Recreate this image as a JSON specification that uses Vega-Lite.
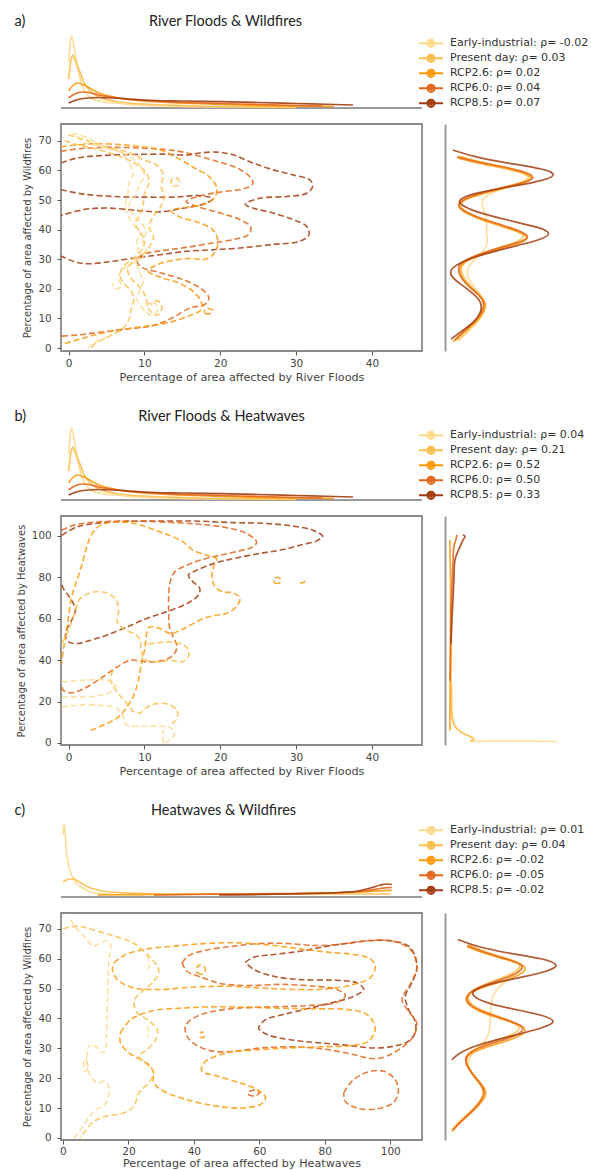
{
"$schema": "https://vega.github.io/schema/vega-lite/v6.json",
"padding": {"left": 14, "top": 13, "right": 0, "bottom": 0},
"config": {
  "font": "DejaVu Sans",
  "view": {"stroke": null},
  "axis": {"labelFont": "DejaVu Sans", "labelFontSize": 10.3, "labelColor": "#444", "titleFont": "DejaVu Sans", "titleFontSize": 10, "titleFontWeight": "normal", "titleColor": "#444", "tickColor": "#555", "grid": false, "domain": false},
  "axisX": {"titleFontSize": 11.2, "labelFontSize": 10.5},
  "legend": {"orient": "none", "padding": 0, "title": null, "symbolType": "M-2,0L2,0M-0.6,0a0.6,0.6 0 1,0 1.2,0a0.6,0.6 0 1,0 -1.2,0M-0.25,0a0.25,0.25 0 1,0 0.5,0a0.25,0.25 0 1,0 -0.5,0", "symbolSize": 144, "symbolStrokeWidth": 2, "symbolOpacity": 1, "labelFont": "DejaVu Sans", "labelFontSize": 11, "labelColor": "#333", "labelOffset": 12, "rowPadding": -2.8, "labelLimit": 300}
},
"datasets": {
"tab": [
{"s":"EI","x":0,"d":0.45},{"s":"EI","x":0.15,"d":0.6},{"s":"EI","x":0.35,"d":0.72},{"s":"EI","x":0.6,"d":0.66},{"s":"EI","x":1,"d":0.48},{"s":"EI","x":1.5,"d":0.3},{"s":"EI","x":2,"d":0.18},{"s":"EI","x":3,"d":0.1},{"s":"EI","x":4,"d":0.07},{"s":"EI","x":6,"d":0.05},{"s":"EI","x":8,"d":0.035},{"s":"EI","x":10,"d":0.025},{"s":"EI","x":14,"d":0.015},{"s":"EI","x":20,"d":0.01},{"s":"EI","x":30,"d":0.005},
{"s":"PD","x":0,"d":0.29},{"s":"PD","x":0.2,"d":0.42},{"s":"PD","x":0.5,"d":0.53},{"s":"PD","x":0.9,"d":0.47},{"s":"PD","x":1.5,"d":0.36},{"s":"PD","x":2,"d":0.26},{"s":"PD","x":3,"d":0.16},{"s":"PD","x":4,"d":0.11},{"s":"PD","x":6,"d":0.07},{"s":"PD","x":8,"d":0.05},{"s":"PD","x":10,"d":0.04},{"s":"PD","x":15,"d":0.025},{"s":"PD","x":20,"d":0.015},{"s":"PD","x":30,"d":0.01},
{"s":"R26","x":0,"d":0.17},{"s":"R26","x":0.5,"d":0.22},{"s":"R26","x":1.2,"d":0.25},{"s":"R26","x":2,"d":0.23},{"s":"R26","x":3,"d":0.19},{"s":"R26","x":4,"d":0.15},{"s":"R26","x":6,"d":0.11},{"s":"R26","x":8,"d":0.085},{"s":"R26","x":10,"d":0.07},{"s":"R26","x":15,"d":0.05},{"s":"R26","x":20,"d":0.035},{"s":"R26","x":25,"d":0.025},{"s":"R26","x":30,"d":0.02},{"s":"R26","x":35,"d":0.015},
{"s":"R60","x":0,"d":0.1},{"s":"R60","x":0.8,"d":0.14},{"s":"R60","x":1.8,"d":0.16},{"s":"R60","x":3,"d":0.15},{"s":"R60","x":4,"d":0.13},{"s":"R60","x":6,"d":0.105},{"s":"R60","x":8,"d":0.085},{"s":"R60","x":10,"d":0.075},{"s":"R60","x":15,"d":0.055},{"s":"R60","x":20,"d":0.045},{"s":"R60","x":25,"d":0.035},{"s":"R60","x":30,"d":0.025},{"s":"R60","x":33.5,"d":0.02},
{"s":"R85","x":0,"d":0.05},{"s":"R85","x":1,"d":0.08},{"s":"R85","x":2.5,"d":0.1},{"s":"R85","x":4,"d":0.105},{"s":"R85","x":6,"d":0.1},{"s":"R85","x":8,"d":0.09},{"s":"R85","x":10,"d":0.08},{"s":"R85","x":15,"d":0.07},{"s":"R85","x":20,"d":0.063},{"s":"R85","x":25,"d":0.055},{"s":"R85","x":30,"d":0.045},{"s":"R85","x":35,"d":0.035},{"s":"R85","x":37.5,"d":0.03}
],
"tc": [
{"s":"EI","x":0,"d":0.62},{"s":"EI","x":0.35,"d":0.73},{"s":"EI","x":0.7,"d":0.62},{"s":"EI","x":1,"d":0.48},{"s":"EI","x":1.4,"d":0.37},{"s":"EI","x":2,"d":0.28},{"s":"EI","x":2.9,"d":0.2},{"s":"EI","x":4,"d":0.14},{"s":"EI","x":5.5,"d":0.1},{"s":"EI","x":7,"d":0.07},{"s":"EI","x":8.5,"d":0.05},{"s":"EI","x":11,"d":0.035},{"s":"EI","x":15,"d":0.025},{"s":"EI","x":20,"d":0.02},{"s":"EI","x":25,"d":0.015},
{"s":"PD","x":0,"d":0.15},{"s":"PD","x":1.5,"d":0.175},{"s":"PD","x":3,"d":0.18},{"s":"PD","x":4.5,"d":0.16},{"s":"PD","x":6.5,"d":0.12},{"s":"PD","x":8.5,"d":0.09},{"s":"PD","x":10.6,"d":0.07},{"s":"PD","x":13,"d":0.055},{"s":"PD","x":16.7,"d":0.045},{"s":"PD","x":25,"d":0.035},{"s":"PD","x":40,"d":0.03},{"s":"PD","x":60,"d":0.03},{"s":"PD","x":80,"d":0.03},{"s":"PD","x":95,"d":0.03},{"s":"PD","x":100,"d":0.03},
{"s":"R26","x":10.6,"d":0.02},{"s":"R26","x":20,"d":0.025},{"s":"R26","x":30,"d":0.025},{"s":"R26","x":45,"d":0.03},{"s":"R26","x":60,"d":0.03},{"s":"R26","x":70,"d":0.032},{"s":"R26","x":80,"d":0.04},{"s":"R26","x":90,"d":0.05},{"s":"R26","x":95,"d":0.058},{"s":"R26","x":100.5,"d":0.067},
{"s":"R60","x":27.8,"d":0.02},{"s":"R60","x":40,"d":0.025},{"s":"R60","x":55,"d":0.03},{"s":"R60","x":70,"d":0.035},{"s":"R60","x":85,"d":0.045},{"s":"R60","x":92,"d":0.06},{"s":"R60","x":96,"d":0.08},{"s":"R60","x":99,"d":0.094},{"s":"R60","x":100.5,"d":0.095},
{"s":"R85","x":47.7,"d":0.02},{"s":"R85","x":60,"d":0.025},{"s":"R85","x":75,"d":0.035},{"s":"R85","x":85,"d":0.045},{"s":"R85","x":90,"d":0.06},{"s":"R85","x":94,"d":0.09},{"s":"R85","x":97,"d":0.12},{"s":"R85","x":99,"d":0.13},{"s":"R85","x":100.5,"d":0.125}
],
"ra": [
{"s":"EI","y":2.5,"d":0.14},{"s":"EI","y":5.8,"d":0.24},{"s":"EI","y":8.8,"d":0.33},{"s":"EI","y":11.8,"d":0.39},{"s":"EI","y":15,"d":0.41},{"s":"EI","y":18,"d":0.36},{"s":"EI","y":21,"d":0.28},{"s":"EI","y":24,"d":0.22},{"s":"EI","y":27.2,"d":0.22},{"s":"EI","y":30,"d":0.3},{"s":"EI","y":33,"d":0.4},{"s":"EI","y":36,"d":0.43},{"s":"EI","y":39,"d":0.41},{"s":"EI","y":42,"d":0.42},{"s":"EI","y":45,"d":0.41},{"s":"EI","y":48,"d":0.37},{"s":"EI","y":50.6,"d":0.36},{"s":"EI","y":53,"d":0.5},{"s":"EI","y":55.5,"d":0.72},{"s":"EI","y":57.4,"d":0.86},{"s":"EI","y":59.5,"d":0.78},{"s":"EI","y":61.5,"d":0.54},{"s":"EI","y":63,"d":0.32},{"s":"EI","y":64.8,"d":0.15},
{"s":"PD","y":2.5,"d":0.12},{"s":"PD","y":5.8,"d":0.22},{"s":"PD","y":8.8,"d":0.32},{"s":"PD","y":11.8,"d":0.38},{"s":"PD","y":15,"d":0.4},{"s":"PD","y":18,"d":0.35},{"s":"PD","y":21,"d":0.25},{"s":"PD","y":24,"d":0.18},{"s":"PD","y":27.2,"d":0.15},{"s":"PD","y":30,"d":0.22},{"s":"PD","y":33,"d":0.45},{"s":"PD","y":35.5,"d":0.7},{"s":"PD","y":37.4,"d":0.8},{"s":"PD","y":39.2,"d":0.76},{"s":"PD","y":41.5,"d":0.56},{"s":"PD","y":44,"d":0.33},{"s":"PD","y":46.5,"d":0.19},{"s":"PD","y":48.3,"d":0.14},{"s":"PD","y":50.5,"d":0.2},{"s":"PD","y":53,"d":0.43},{"s":"PD","y":55.5,"d":0.74},{"s":"PD","y":57.4,"d":0.88},{"s":"PD","y":59.5,"d":0.8},{"s":"PD","y":61.5,"d":0.55},{"s":"PD","y":63,"d":0.32},{"s":"PD","y":64.8,"d":0.14},
{"s":"R26","y":2.2,"d":0.08},{"s":"R26","y":5.5,"d":0.19},{"s":"R26","y":8.5,"d":0.3},{"s":"R26","y":11.5,"d":0.38},{"s":"R26","y":14.6,"d":0.42},{"s":"R26","y":17.5,"d":0.36},{"s":"R26","y":20.5,"d":0.25},{"s":"R26","y":23.5,"d":0.17},{"s":"R26","y":27,"d":0.13},{"s":"R26","y":29.5,"d":0.2},{"s":"R26","y":32.5,"d":0.44},{"s":"R26","y":35,"d":0.72},{"s":"R26","y":36.8,"d":0.84},{"s":"R26","y":38.6,"d":0.8},{"s":"R26","y":41,"d":0.58},{"s":"R26","y":43.5,"d":0.34},{"s":"R26","y":46,"d":0.18},{"s":"R26","y":48,"d":0.12},{"s":"R26","y":50,"d":0.17},{"s":"R26","y":52.5,"d":0.4},{"s":"R26","y":55,"d":0.73},{"s":"R26","y":57,"d":0.9},{"s":"R26","y":59,"d":0.82},{"s":"R26","y":61,"d":0.56},{"s":"R26","y":62.5,"d":0.32},{"s":"R26","y":64.2,"d":0.13},
{"s":"R60","y":2.7,"d":0.1},{"s":"R60","y":6,"d":0.2},{"s":"R60","y":9,"d":0.3},{"s":"R60","y":12,"d":0.37},{"s":"R60","y":15.1,"d":0.4},{"s":"R60","y":18,"d":0.34},{"s":"R60","y":21,"d":0.23},{"s":"R60","y":24,"d":0.15},{"s":"R60","y":27.5,"d":0.12},{"s":"R60","y":30,"d":0.2},{"s":"R60","y":33,"d":0.45},{"s":"R60","y":35.5,"d":0.72},{"s":"R60","y":37.2,"d":0.85},{"s":"R60","y":39,"d":0.8},{"s":"R60","y":41.5,"d":0.58},{"s":"R60","y":44,"d":0.33},{"s":"R60","y":46.5,"d":0.17},{"s":"R60","y":48.3,"d":0.12},{"s":"R60","y":50.5,"d":0.18},{"s":"R60","y":53,"d":0.42},{"s":"R60","y":55.5,"d":0.75},{"s":"R60","y":57.4,"d":0.92},{"s":"R60","y":59.5,"d":0.82},{"s":"R60","y":61.5,"d":0.55},{"s":"R60","y":63,"d":0.3},{"s":"R60","y":64.6,"d":0.12},
{"s":"R85","y":3,"d":0.06},{"s":"R85","y":6,"d":0.18},{"s":"R85","y":9,"d":0.3},{"s":"R85","y":12,"d":0.36},{"s":"R85","y":15.1,"d":0.37},{"s":"R85","y":18,"d":0.3},{"s":"R85","y":21,"d":0.18},{"s":"R85","y":23.5,"d":0.08},{"s":"R85","y":25.8,"d":0.04},{"s":"R85","y":28,"d":0.1},{"s":"R85","y":31,"d":0.3},{"s":"R85","y":34,"d":0.65},{"s":"R85","y":36.5,"d":0.95},{"s":"R85","y":38.5,"d":1.07},{"s":"R85","y":40.5,"d":0.98},{"s":"R85","y":43,"d":0.65},{"s":"R85","y":46,"d":0.3},{"s":"R85","y":48.5,"d":0.15},{"s":"R85","y":50,"d":0.13},{"s":"R85","y":52,"d":0.25},{"s":"R85","y":54,"d":0.55},{"s":"R85","y":56,"d":0.92},{"s":"R85","y":58.4,"d":1.14},{"s":"R85","y":60.5,"d":1.0},{"s":"R85","y":62.5,"d":0.62},{"s":"R85","y":64.5,"d":0.3},{"s":"R85","y":66.9,"d":0.08}
],
"rb": [
{"s":"EI","y":28,"d":0.07},{"s":"EI","y":20,"d":0.07},{"s":"EI","y":11.1,"d":0.08},{"s":"EI","y":7,"d":0.12},{"s":"EI","y":4.7,"d":0.18},{"s":"EI","y":2.6,"d":0.28},{"s":"EI","y":1.6,"d":0.3},{"s":"EI","y":0.8,"d":0.27},{"s":"EI","y":0.9,"d":0.4},{"s":"EI","y":1.0,"d":0.6},{"s":"EI","y":0.9,"d":0.85},{"s":"EI","y":0.7,"d":1.13},
{"s":"PD","y":67,"d":0.06},{"s":"PD","y":50,"d":0.06},{"s":"PD","y":35,"d":0.06},{"s":"PD","y":20,"d":0.06},{"s":"PD","y":12.7,"d":0.07},{"s":"PD","y":8,"d":0.1},{"s":"PD","y":5,"d":0.17},{"s":"PD","y":3,"d":0.25},{"s":"PD","y":1.8,"d":0.28},{"s":"PD","y":0.6,"d":0.25},
{"s":"R26","y":6,"d":0.05},{"s":"R26","y":20,"d":0.05},{"s":"R26","y":40,"d":0.055},{"s":"R26","y":60,"d":0.055},{"s":"R26","y":80,"d":0.055},{"s":"R26","y":92,"d":0.05},{"s":"R26","y":98,"d":0.05},
{"s":"R60","y":30,"d":0.05},{"s":"R60","y":45,"d":0.055},{"s":"R60","y":60,"d":0.06},{"s":"R60","y":75,"d":0.07},{"s":"R60","y":88,"d":0.08},{"s":"R60","y":95,"d":0.09},{"s":"R60","y":98.5,"d":0.11},{"s":"R60","y":100.5,"d":0.12},
{"s":"R85","y":48,"d":0.06},{"s":"R85","y":60,"d":0.07},{"s":"R85","y":70,"d":0.08},{"s":"R85","y":80,"d":0.09},{"s":"R85","y":88.4,"d":0.1},{"s":"R85","y":94.8,"d":0.15},{"s":"R85","y":98,"d":0.18},{"s":"R85","y":99.7,"d":0.2},{"s":"R85","y":100.5,"d":0.18}
],
"rc": [
{"s":"EI","y":2.5,"d":0.06},{"s":"EI","y":5,"d":0.12},{"s":"EI","y":8,"d":0.23},{"s":"EI","y":11,"d":0.32},{"s":"EI","y":13.5,"d":0.37},{"s":"EI","y":15.5,"d":0.39},{"s":"EI","y":18,"d":0.35},{"s":"EI","y":21,"d":0.27},{"s":"EI","y":24,"d":0.23},{"s":"EI","y":27,"d":0.24},{"s":"EI","y":30,"d":0.32},{"s":"EI","y":33,"d":0.42},{"s":"EI","y":36,"d":0.45},{"s":"EI","y":40,"d":0.45},{"s":"EI","y":44,"d":0.46},{"s":"EI","y":47.3,"d":0.47},{"s":"EI","y":50,"d":0.52},{"s":"EI","y":52.8,"d":0.62},{"s":"EI","y":55,"d":0.72},{"s":"EI","y":57.3,"d":0.78},{"s":"EI","y":59,"d":0.7},{"s":"EI","y":61,"d":0.5},{"s":"EI","y":63,"d":0.33},{"s":"EI","y":64.6,"d":0.24},
{"s":"PD","y":3,"d":0.09},{"s":"PD","y":5.5,"d":0.15},{"s":"PD","y":8.5,"d":0.25},{"s":"PD","y":11.5,"d":0.34},{"s":"PD","y":14,"d":0.38},{"s":"PD","y":16,"d":0.39},{"s":"PD","y":18.5,"d":0.35},{"s":"PD","y":21.5,"d":0.27},{"s":"PD","y":24.5,"d":0.22},{"s":"PD","y":26.6,"d":0.21},{"s":"PD","y":28.5,"d":0.24},{"s":"PD","y":30.5,"d":0.34},{"s":"PD","y":32.5,"d":0.5},{"s":"PD","y":34.5,"d":0.68},{"s":"PD","y":36.5,"d":0.76},{"s":"PD","y":38.5,"d":0.71},{"s":"PD","y":40.5,"d":0.55},{"s":"PD","y":42.5,"d":0.38},{"s":"PD","y":44.5,"d":0.26},{"s":"PD","y":47,"d":0.22},{"s":"PD","y":49.5,"d":0.27},{"s":"PD","y":51.5,"d":0.4},{"s":"PD","y":53.5,"d":0.57},{"s":"PD","y":55.5,"d":0.7},{"s":"PD","y":57.5,"d":0.77},{"s":"PD","y":59.3,"d":0.7},{"s":"PD","y":61.3,"d":0.49},{"s":"PD","y":63.3,"d":0.32},{"s":"PD","y":64.8,"d":0.24},
{"s":"R26","y":2.2,"d":0.07},{"s":"R26","y":4.5,"d":0.13},{"s":"R26","y":7.5,"d":0.23},{"s":"R26","y":10.5,"d":0.33},{"s":"R26","y":13,"d":0.39},{"s":"R26","y":15,"d":0.42},{"s":"R26","y":17.5,"d":0.38},{"s":"R26","y":20.5,"d":0.3},{"s":"R26","y":23.5,"d":0.23},{"s":"R26","y":25.6,"d":0.2},{"s":"R26","y":27.5,"d":0.22},{"s":"R26","y":29.5,"d":0.33},{"s":"R26","y":31.5,"d":0.52},{"s":"R26","y":33.5,"d":0.72},{"s":"R26","y":35.6,"d":0.82},{"s":"R26","y":37.5,"d":0.78},{"s":"R26","y":39.5,"d":0.6},{"s":"R26","y":41.5,"d":0.4},{"s":"R26","y":43.5,"d":0.27},{"s":"R26","y":46.2,"d":0.19},{"s":"R26","y":48.5,"d":0.24},{"s":"R26","y":50.5,"d":0.38},{"s":"R26","y":52.5,"d":0.58},{"s":"R26","y":54.5,"d":0.75},{"s":"R26","y":56.8,"d":0.83},{"s":"R26","y":58.5,"d":0.75},{"s":"R26","y":60.5,"d":0.52},{"s":"R26","y":62.5,"d":0.33},{"s":"R26","y":64,"d":0.22},
{"s":"R60","y":2.7,"d":0.08},{"s":"R60","y":5,"d":0.14},{"s":"R60","y":8,"d":0.24},{"s":"R60","y":11,"d":0.33},{"s":"R60","y":13.5,"d":0.38},{"s":"R60","y":15.5,"d":0.4},{"s":"R60","y":18,"d":0.36},{"s":"R60","y":21,"d":0.28},{"s":"R60","y":24,"d":0.22},{"s":"R60","y":26.1,"d":0.2},{"s":"R60","y":28,"d":0.22},{"s":"R60","y":30,"d":0.32},{"s":"R60","y":32,"d":0.5},{"s":"R60","y":34,"d":0.7},{"s":"R60","y":36.1,"d":0.8},{"s":"R60","y":38,"d":0.75},{"s":"R60","y":40,"d":0.58},{"s":"R60","y":42,"d":0.4},{"s":"R60","y":44,"d":0.26},{"s":"R60","y":46.7,"d":0.2},{"s":"R60","y":49,"d":0.25},{"s":"R60","y":51,"d":0.38},{"s":"R60","y":53,"d":0.56},{"s":"R60","y":55,"d":0.72},{"s":"R60","y":57.3,"d":0.8},{"s":"R60","y":59,"d":0.72},{"s":"R60","y":61,"d":0.5},{"s":"R60","y":63,"d":0.32},{"s":"R60","y":64.5,"d":0.22},
{"s":"R85","y":26.1,"d":0.07},{"s":"R85","y":28,"d":0.12},{"s":"R85","y":31,"d":0.3},{"s":"R85","y":34,"d":0.65},{"s":"R85","y":37,"d":1.0},{"s":"R85","y":38.9,"d":1.12},{"s":"R85","y":41,"d":1.0},{"s":"R85","y":43,"d":0.7},{"s":"R85","y":45,"d":0.42},{"s":"R85","y":47.8,"d":0.25},{"s":"R85","y":50,"d":0.3},{"s":"R85","y":52,"d":0.5},{"s":"R85","y":54,"d":0.8},{"s":"R85","y":56,"d":1.05},{"s":"R85","y":57.9,"d":1.15},{"s":"R85","y":60,"d":1.0},{"s":"R85","y":62,"d":0.6},{"s":"R85","y":64,"d":0.32},{"s":"R85","y":66.4,"d":0.13}
],
"ca": [
{"s":"R85","k":1,"x":-1,"y":62.5},{"s":"R85","k":1,"x":1.1,"y":64.2},{"s":"R85","k":1,"x":4.2,"y":65},{"s":"R85","k":1,"x":8.6,"y":65.4},{"s":"R85","k":1,"x":12.9,"y":65.5},{"s":"R85","k":1,"x":15.6,"y":65.2},{"s":"R85","k":1,"x":17.3,"y":65.9},{"s":"R85","k":1,"x":19.5,"y":66.2},{"s":"R85","k":1,"x":21.7,"y":65.3},{"s":"R85","k":1,"x":24.3,"y":62.5},{"s":"R85","k":1,"x":27,"y":60.2},{"s":"R85","k":1,"x":29.6,"y":58.5},{"s":"R85","k":1,"x":31.8,"y":56.8},{"s":"R85","k":1,"x":32.2,"y":54.8},{"s":"R85","k":1,"x":31.4,"y":52.3},{"s":"R85","k":1,"x":28.7,"y":51.2},{"s":"R85","k":1,"x":25.2,"y":50.6},{"s":"R85","k":1,"x":23.3,"y":48.6},{"s":"R85","k":1,"x":24.3,"y":47.3},{"s":"R85","k":1,"x":27,"y":45.6},{"s":"R85","k":1,"x":29.6,"y":43.4},{"s":"R85","k":1,"x":31.4,"y":41.1},{"s":"R85","k":1,"x":31.7,"y":38.3},{"s":"R85","k":1,"x":30.5,"y":36.1},{"s":"R85","k":1,"x":26.9,"y":35},{"s":"R85","k":1,"x":22.6,"y":33.8},{"s":"R85","k":1,"x":19.1,"y":33.2},{"s":"R85","k":1,"x":15.6,"y":32.7},{"s":"R85","k":1,"x":12,"y":31.5},{"s":"R85","k":1,"x":8.6,"y":30.4},{"s":"R85","k":1,"x":5.5,"y":29.2},{"s":"R85","k":1,"x":2.9,"y":28.5},{"s":"R85","k":1,"x":1.1,"y":28.9},{"s":"R85","k":1,"x":-1,"y":31.1},
{"s":"R85","k":2,"x":-1,"y":53.5},{"s":"R85","k":2,"x":2,"y":52},{"s":"R85","k":2,"x":6,"y":51.2},{"s":"R85","k":2,"x":10,"y":51},{"s":"R85","k":2,"x":14,"y":51},{"s":"R85","k":2,"x":17,"y":51.5},{"s":"R85","k":2,"x":19,"y":50.5},{"s":"R85","k":2,"x":18,"y":48.8},{"s":"R85","k":2,"x":15,"y":47.2},{"s":"R85","k":2,"x":12,"y":46},{"s":"R85","k":2,"x":9,"y":46.5},{"s":"R85","k":2,"x":5,"y":47.3},{"s":"R85","k":2,"x":2,"y":46.8},{"s":"R85","k":2,"x":-1,"y":44.8},
{"s":"R60","k":3,"x":-1,"y":66.5},{"s":"R60","k":3,"x":2,"y":67.5},{"s":"R60","k":3,"x":6,"y":67.8},{"s":"R60","k":3,"x":10,"y":67.5},{"s":"R60","k":3,"x":13,"y":67},{"s":"R60","k":3,"x":15.5,"y":66},{"s":"R60","k":3,"x":19,"y":63.5},{"s":"R60","k":3,"x":22.5,"y":60.5},{"s":"R60","k":3,"x":24,"y":57.5},{"s":"R60","k":3,"x":24.3,"y":55.5},{"s":"R60","k":3,"x":23,"y":53.8},{"s":"R60","k":3,"x":20,"y":52.7},{"s":"R60","k":3,"x":17,"y":51.2},{"s":"R60","k":3,"x":15.5,"y":49.5},{"s":"R60","k":3,"x":17,"y":47.8},{"s":"R60","k":3,"x":20,"y":45.6},{"s":"R60","k":3,"x":22.5,"y":43.5},{"s":"R60","k":3,"x":24,"y":41},{"s":"R60","k":3,"x":23.8,"y":38.5},{"s":"R60","k":3,"x":22,"y":36.8},{"s":"R60","k":3,"x":19,"y":35.5},{"s":"R60","k":3,"x":15.5,"y":34},{"s":"R60","k":3,"x":12.5,"y":33},{"s":"R60","k":3,"x":10,"y":31.8},{"s":"R60","k":3,"x":9,"y":30},{"s":"R60","k":3,"x":9.5,"y":27.5},{"s":"R60","k":3,"x":12,"y":25.5},{"s":"R60","k":3,"x":15,"y":23.2},{"s":"R60","k":3,"x":17.5,"y":20},{"s":"R60","k":3,"x":18.5,"y":17},{"s":"R60","k":3,"x":18,"y":14.8},{"s":"R60","k":3,"x":16,"y":13.5},{"s":"R60","k":3,"x":13.5,"y":10},{"s":"R60","k":3,"x":11,"y":7.5},{"s":"R60","k":3,"x":8,"y":6.5},{"s":"R60","k":3,"x":4,"y":5.3},{"s":"R60","k":3,"x":1.5,"y":4.5},{"s":"R60","k":3,"x":-1,"y":4},
{"s":"R26","k":4,"x":-1,"y":68},{"s":"R26","k":4,"x":3,"y":69},{"s":"R26","k":4,"x":8,"y":68.5},{"s":"R26","k":4,"x":12,"y":67},{"s":"R26","k":4,"x":14.5,"y":64},{"s":"R26","k":4,"x":16.5,"y":61},{"s":"R26","k":4,"x":18.5,"y":58},{"s":"R26","k":4,"x":19.5,"y":54.5},{"s":"R26","k":4,"x":19.3,"y":51},{"s":"R26","k":4,"x":17.8,"y":48.5},{"s":"R26","k":4,"x":15.5,"y":47.5},{"s":"R26","k":4,"x":13.5,"y":46.5},{"s":"R26","k":4,"x":14.5,"y":44.5},{"s":"R26","k":4,"x":17,"y":42.5},{"s":"R26","k":4,"x":19,"y":40},{"s":"R26","k":4,"x":19.7,"y":36},{"s":"R26","k":4,"x":19.2,"y":32},{"s":"R26","k":4,"x":18,"y":30},{"s":"R26","k":4,"x":16,"y":30.3},{"s":"R26","k":4,"x":13.5,"y":29.5},{"s":"R26","k":4,"x":11.5,"y":28},{"s":"R26","k":4,"x":10.5,"y":26},{"s":"R26","k":4,"x":12,"y":24},{"s":"R26","k":4,"x":14.5,"y":22},{"s":"R26","k":4,"x":16.5,"y":19},{"s":"R26","k":4,"x":17.5,"y":15.5},{"s":"R26","k":4,"x":17.5,"y":13},{"s":"R26","k":4,"x":16,"y":11},{"s":"R26","k":4,"x":13,"y":8.5},{"s":"R26","k":4,"x":10,"y":7.3},{"s":"R26","k":4,"x":7,"y":6.3},{"s":"R26","k":4,"x":4,"y":4.8},{"s":"R26","k":4,"x":1.5,"y":3},{"s":"R26","k":4,"x":-0.5,"y":1.5},
{"s":"R26","k":5,"x":18,"y":11.5},{"s":"R26","k":5,"x":18.8,"y":11.8},{"s":"R26","k":5,"x":19,"y":12.8},{"s":"R26","k":5,"x":18.4,"y":13.3},{"s":"R26","k":5,"x":17.9,"y":12.6},{"s":"R26","k":5,"x":18,"y":11.5},
{"s":"PD","k":6,"x":0,"y":72},{"s":"PD","k":6,"x":2,"y":70.5},{"s":"PD","k":6,"x":5,"y":68},{"s":"PD","k":6,"x":8,"y":66},{"s":"PD","k":6,"x":10,"y":63.5},{"s":"PD","k":6,"x":11.8,"y":61.5},{"s":"PD","k":6,"x":12.5,"y":58.5},{"s":"PD","k":6,"x":12.2,"y":55},{"s":"PD","k":6,"x":12.6,"y":51},{"s":"PD","k":6,"x":12.1,"y":47.5},{"s":"PD","k":6,"x":11.2,"y":44.5},{"s":"PD","k":6,"x":10.6,"y":41},{"s":"PD","k":6,"x":11.2,"y":37.5},{"s":"PD","k":6,"x":10.6,"y":34},{"s":"PD","k":6,"x":9.5,"y":31},{"s":"PD","k":6,"x":8.2,"y":28.5},{"s":"PD","k":6,"x":7.8,"y":26},{"s":"PD","k":6,"x":8.4,"y":23},{"s":"PD","k":6,"x":9.6,"y":20},{"s":"PD","k":6,"x":10.2,"y":17},{"s":"PD","k":6,"x":10.5,"y":13.5},{"s":"PD","k":6,"x":11.6,"y":11},{"s":"PD","k":6,"x":12.2,"y":12.5},{"s":"PD","k":6,"x":12.2,"y":15},{"s":"PD","k":6,"x":11.5,"y":16},{"s":"PD","k":6,"x":10.8,"y":14.5},
{"s":"PD","k":7,"x":-0.5,"y":70},{"s":"PD","k":7,"x":1.5,"y":68.5},{"s":"PD","k":7,"x":4,"y":67},{"s":"PD","k":7,"x":7,"y":64.5},{"s":"PD","k":7,"x":9,"y":62},{"s":"PD","k":7,"x":10.3,"y":59},{"s":"PD","k":7,"x":10.6,"y":56},{"s":"PD","k":7,"x":10,"y":52},{"s":"PD","k":7,"x":9.8,"y":48},{"s":"PD","k":7,"x":9.4,"y":45},{"s":"PD","k":7,"x":8.8,"y":42},{"s":"PD","k":7,"x":9.5,"y":39},{"s":"PD","k":7,"x":10,"y":36},{"s":"PD","k":7,"x":9.6,"y":33},{"s":"PD","k":7,"x":8.6,"y":30.5},{"s":"PD","k":7,"x":7.4,"y":28},{"s":"PD","k":7,"x":6.8,"y":25},{"s":"PD","k":7,"x":7.2,"y":22},{"s":"PD","k":7,"x":8.2,"y":19.5},{"s":"PD","k":7,"x":8.6,"y":16.5},{"s":"PD","k":7,"x":8.3,"y":13.5},{"s":"PD","k":7,"x":8,"y":10},{"s":"PD","k":7,"x":7.5,"y":7.5},{"s":"PD","k":7,"x":6.5,"y":5.5},{"s":"PD","k":7,"x":5,"y":3.5},{"s":"PD","k":7,"x":3.5,"y":1.5},{"s":"PD","k":7,"x":3,"y":0},
{"s":"PD","k":8,"x":13.7,"y":54.6},{"s":"PD","k":8,"x":14.4,"y":55},{"s":"PD","k":8,"x":14.6,"y":56.5},{"s":"PD","k":8,"x":14.2,"y":57.5},{"s":"PD","k":8,"x":13.6,"y":57},{"s":"PD","k":8,"x":13.5,"y":55.5},{"s":"PD","k":8,"x":13.7,"y":54.6},
{"s":"EI","k":9,"x":0.5,"y":72.5},{"s":"EI","k":9,"x":1.5,"y":72},{"s":"EI","k":9,"x":3,"y":70.5},{"s":"EI","k":9,"x":4.5,"y":68},{"s":"EI","k":9,"x":6.5,"y":66.5},{"s":"EI","k":9,"x":8.5,"y":64},{"s":"EI","k":9,"x":9.5,"y":61.5},{"s":"EI","k":9,"x":10,"y":58},{"s":"EI","k":9,"x":9.3,"y":55},{"s":"EI","k":9,"x":8.8,"y":51.5},{"s":"EI","k":9,"x":8,"y":48.5},{"s":"EI","k":9,"x":8.5,"y":45},{"s":"EI","k":9,"x":9.7,"y":42},{"s":"EI","k":9,"x":10.2,"y":39},{"s":"EI","k":9,"x":9.8,"y":36},{"s":"EI","k":9,"x":10.3,"y":33},{"s":"EI","k":9,"x":9.5,"y":30},{"s":"EI","k":9,"x":8,"y":28},{"s":"EI","k":9,"x":7,"y":26},{"s":"EI","k":9,"x":6.5,"y":23.5},{"s":"EI","k":9,"x":7,"y":21},{"s":"EI","k":9,"x":6.2,"y":20},{"s":"EI","k":9,"x":5.8,"y":22},
{"s":"EI","k":10,"x":1,"y":71.5},{"s":"EI","k":10,"x":2,"y":69.5},{"s":"EI","k":10,"x":3.5,"y":68.5},{"s":"EI","k":10,"x":5.5,"y":67.2},{"s":"EI","k":10,"x":7,"y":66},{"s":"EI","k":10,"x":8,"y":62.5},{"s":"EI","k":10,"x":8.5,"y":59},{"s":"EI","k":10,"x":8,"y":56},{"s":"EI","k":10,"x":7.8,"y":52},{"s":"EI","k":10,"x":7.5,"y":48},{"s":"EI","k":10,"x":8,"y":44},{"s":"EI","k":10,"x":8.8,"y":41},{"s":"EI","k":10,"x":9.5,"y":38.5},{"s":"EI","k":10,"x":9,"y":36},{"s":"EI","k":10,"x":9.2,"y":33.5},{"s":"EI","k":10,"x":8.8,"y":31},{"s":"EI","k":10,"x":9,"y":28},{"s":"EI","k":10,"x":9.5,"y":25},{"s":"EI","k":10,"x":9.8,"y":22},{"s":"EI","k":10,"x":9.3,"y":19},{"s":"EI","k":10,"x":9,"y":16.5},{"s":"EI","k":10,"x":9.6,"y":14},{"s":"EI","k":10,"x":10.3,"y":12},{"s":"EI","k":10,"x":11,"y":11},{"s":"EI","k":10,"x":11.7,"y":12.5},{"s":"EI","k":10,"x":11.5,"y":15},{"s":"EI","k":10,"x":10.8,"y":15.5},{"s":"EI","k":10,"x":10.2,"y":13.5},
{"s":"EI","k":11,"x":2.5,"y":0},{"s":"EI","k":11,"x":3.5,"y":2},{"s":"EI","k":11,"x":5,"y":3.5}
],
"cb": [
{"s":"R85","k":1,"x":-0.9,"y":100.3},{"s":"R85","k":1,"x":1.1,"y":104.3},{"s":"R85","k":1,"x":4.2,"y":106.3},{"s":"R85","k":1,"x":8.6,"y":107.1},{"s":"R85","k":1,"x":12.9,"y":107.2},{"s":"R85","k":1,"x":17.3,"y":107.1},{"s":"R85","k":1,"x":21.7,"y":106.4},{"s":"R85","k":1,"x":26.1,"y":106},{"s":"R85","k":1,"x":29.6,"y":104.7},{"s":"R85","k":1,"x":32.2,"y":102.7},{"s":"R85","k":1,"x":33.5,"y":99.8},{"s":"R85","k":1,"x":32.7,"y":97.6},{"s":"R85","k":1,"x":30.5,"y":95.5},{"s":"R85","k":1,"x":28.3,"y":93.4},{"s":"R85","k":1,"x":25.2,"y":91.5},{"s":"R85","k":1,"x":21.7,"y":89},{"s":"R85","k":1,"x":19.1,"y":86.6},{"s":"R85","k":1,"x":16.9,"y":83.4},{"s":"R85","k":1,"x":15.8,"y":81},{"s":"R85","k":1,"x":16.4,"y":77.8},{"s":"R85","k":1,"x":17.3,"y":74.6},{"s":"R85","k":1,"x":17.1,"y":71.3},{"s":"R85","k":1,"x":15.6,"y":67.3},{"s":"R85","k":1,"x":12.9,"y":63.3},{"s":"R85","k":1,"x":10.3,"y":60.1},{"s":"R85","k":1,"x":7.7,"y":56},{"s":"R85","k":1,"x":5,"y":52},{"s":"R85","k":1,"x":2.9,"y":49.6},{"s":"R85","k":1,"x":1.1,"y":48},{"s":"R85","k":1,"x":0,"y":48.8},{"s":"R85","k":1,"x":-0.4,"y":51.2},{"s":"R85","k":1,"x":-0.2,"y":55.2},{"s":"R85","k":1,"x":0.4,"y":59.3},{"s":"R85","k":1,"x":0.9,"y":64.1},{"s":"R85","k":1,"x":0.4,"y":68.9},{"s":"R85","k":1,"x":-0.2,"y":72.1},{"s":"R85","k":1,"x":-0.7,"y":74.6},{"s":"R85","k":1,"x":-0.9,"y":77},
{"s":"R60","k":2,"x":-0.9,"y":102.7},{"s":"R60","k":2,"x":0.7,"y":105.2},{"s":"R60","k":2,"x":4.2,"y":106.8},{"s":"R60","k":2,"x":8.6,"y":107.1},{"s":"R60","k":2,"x":12.9,"y":106.6},{"s":"R60","k":2,"x":17.3,"y":105.6},{"s":"R60","k":2,"x":20.8,"y":104},{"s":"R60","k":2,"x":23.5,"y":101.1},{"s":"R60","k":2,"x":24.8,"y":97.1},{"s":"R60","k":2,"x":24.3,"y":94.7},{"s":"R60","k":2,"x":22.6,"y":92.8},{"s":"R60","k":2,"x":20,"y":90.7},{"s":"R60","k":2,"x":17.3,"y":88.2},{"s":"R60","k":2,"x":15.6,"y":85.8},{"s":"R60","k":2,"x":14,"y":82.6},{"s":"R60","k":2,"x":13.4,"y":77.8},{"s":"R60","k":2,"x":13.2,"y":70.5},{"s":"R60","k":2,"x":13.2,"y":62.5},{"s":"R60","k":2,"x":13.3,"y":56},{"s":"R60","k":2,"x":13.8,"y":51.2},{"s":"R60","k":2,"x":14.3,"y":46.4},{"s":"R60","k":2,"x":13.8,"y":42.4},{"s":"R60","k":2,"x":12.5,"y":39.9},{"s":"R60","k":2,"x":10.7,"y":39.1},{"s":"R60","k":2,"x":9.4,"y":39.6},{"s":"R60","k":2,"x":8.1,"y":39.9},{"s":"R60","k":2,"x":6.4,"y":36.7},{"s":"R60","k":2,"x":4.2,"y":31.1},{"s":"R60","k":2,"x":2,"y":26.2},{"s":"R60","k":2,"x":0.4,"y":24.2},{"s":"R60","k":2,"x":-0.7,"y":25.4},{"s":"R60","k":2,"x":-0.9,"y":27.9},
{"s":"R26","k":3,"x":2.9,"y":6.1},{"s":"R26","k":3,"x":5,"y":9.3},{"s":"R26","k":3,"x":6.6,"y":12.6},{"s":"R26","k":3,"x":7.7,"y":17.4},{"s":"R26","k":3,"x":8.6,"y":23},{"s":"R26","k":3,"x":9.2,"y":30.3},{"s":"R26","k":3,"x":9.6,"y":38.3},{"s":"R26","k":3,"x":10.1,"y":46.4},{"s":"R26","k":3,"x":10.3,"y":52.8},{"s":"R26","k":3,"x":10.7,"y":56},{"s":"R26","k":3,"x":12.1,"y":55.2},{"s":"R26","k":3,"x":13.4,"y":52.8},{"s":"R26","k":3,"x":14.7,"y":54.4},{"s":"R26","k":3,"x":16,"y":56.8},{"s":"R26","k":3,"x":17.8,"y":60.1},{"s":"R26","k":3,"x":19.5,"y":61.7},{"s":"R26","k":3,"x":20.8,"y":62.5},{"s":"R26","k":3,"x":22.1,"y":65.7},{"s":"R26","k":3,"x":22.6,"y":69.7},{"s":"R26","k":3,"x":21.7,"y":72.5},{"s":"R26","k":3,"x":20.4,"y":72.9},{"s":"R26","k":3,"x":19.3,"y":75.4},{"s":"R26","k":3,"x":18.9,"y":80.2},{"s":"R26","k":3,"x":19.1,"y":85},{"s":"R26","k":3,"x":19.5,"y":89},{"s":"R26","k":3,"x":18.2,"y":90.7},{"s":"R26","k":3,"x":16.4,"y":93.1},{"s":"R26","k":3,"x":15.1,"y":97.1},{"s":"R26","k":3,"x":13.8,"y":99.5},{"s":"R26","k":3,"x":12.1,"y":101.9},{"s":"R26","k":3,"x":10.3,"y":104.3},{"s":"R26","k":3,"x":8.6,"y":106},{"s":"R26","k":3,"x":6.4,"y":106.8},{"s":"R26","k":3,"x":4.2,"y":105.2},{"s":"R26","k":3,"x":3.1,"y":101.1},{"s":"R26","k":3,"x":2.4,"y":94.7},{"s":"R26","k":3,"x":1.8,"y":86.6},{"s":"R26","k":3,"x":1.1,"y":78.6},{"s":"R26","k":3,"x":0.4,"y":70.5},{"s":"R26","k":3,"x":0,"y":60.9},{"s":"R26","k":3,"x":-0.4,"y":51.2},{"s":"R26","k":3,"x":-0.7,"y":44.8},{"s":"R26","k":3,"x":-0.9,"y":38.3},
{"s":"R26","k":4,"x":27.2,"y":77},{"s":"R26","k":4,"x":27.8,"y":77.3},{"s":"R26","k":4,"x":28,"y":78.8},{"s":"R26","k":4,"x":27.6,"y":80},{"s":"R26","k":4,"x":27.1,"y":79.2},{"s":"R26","k":4,"x":27.2,"y":77},
{"s":"R26","k":5,"x":30.5,"y":77.3},{"s":"R26","k":5,"x":31,"y":77.5},{"s":"R26","k":5,"x":31.1,"y":78.3},{"s":"R26","k":5,"x":30.7,"y":78.6},
{"s":"PD","k":6,"x":-0.9,"y":48},{"s":"PD","k":6,"x":0,"y":54.4},{"s":"PD","k":6,"x":0.9,"y":64.1},{"s":"PD","k":6,"x":1.5,"y":69.7},{"s":"PD","k":6,"x":3.3,"y":72.9},{"s":"PD","k":6,"x":5,"y":72.5},{"s":"PD","k":6,"x":6.3,"y":68.9},{"s":"PD","k":6,"x":6.6,"y":64.1},{"s":"PD","k":6,"x":6.4,"y":58.5},{"s":"PD","k":6,"x":7.5,"y":54.4},{"s":"PD","k":6,"x":8.8,"y":52.5},{"s":"PD","k":6,"x":9.4,"y":49.6},{"s":"PD","k":6,"x":9.6,"y":44.8},{"s":"PD","k":6,"x":9.9,"y":40.7},{"s":"PD","k":6,"x":11.6,"y":39.1},{"s":"PD","k":6,"x":13.4,"y":39.9},{"s":"PD","k":6,"x":14.9,"y":39.1},{"s":"PD","k":6,"x":15.8,"y":41.5},{"s":"PD","k":6,"x":15.7,"y":45.6},{"s":"PD","k":6,"x":14.7,"y":48},{"s":"PD","k":6,"x":12.9,"y":48.8},{"s":"PD","k":6,"x":11.2,"y":48},{"s":"PD","k":6,"x":9.9,"y":48},
{"s":"PD","k":7,"x":5.9,"y":35.1},{"s":"PD","k":7,"x":5.5,"y":31.9},{"s":"PD","k":7,"x":5.7,"y":28.7},{"s":"PD","k":7,"x":6.4,"y":24.6},{"s":"PD","k":7,"x":7.2,"y":20.9},{"s":"PD","k":7,"x":7.9,"y":18.2},{"s":"PD","k":7,"x":8.6,"y":15},{"s":"PD","k":7,"x":9.4,"y":14.5},{"s":"PD","k":7,"x":10.3,"y":17.1},{"s":"PD","k":7,"x":11.6,"y":19},{"s":"PD","k":7,"x":13.2,"y":18.7},{"s":"PD","k":7,"x":14.3,"y":15.8},{"s":"PD","k":7,"x":14.3,"y":11.8},{"s":"PD","k":7,"x":13.6,"y":9.3},
{"s":"EI","k":8,"x":-0.9,"y":29.5},{"s":"EI","k":8,"x":2,"y":30.3},{"s":"EI","k":8,"x":5,"y":30.3},{"s":"EI","k":8,"x":6.1,"y":28.7},{"s":"EI","k":8,"x":5.9,"y":25.4},{"s":"EI","k":8,"x":4.2,"y":23},{"s":"EI","k":8,"x":2,"y":22.2},{"s":"EI","k":8,"x":-0.9,"y":22.2},
{"s":"EI","k":9,"x":-0.9,"y":17.4},{"s":"EI","k":9,"x":1.1,"y":18.2},{"s":"EI","k":9,"x":4.2,"y":18.2},{"s":"EI","k":9,"x":6.4,"y":16.6},{"s":"EI","k":9,"x":7.2,"y":12.6},{"s":"EI","k":9,"x":7.7,"y":8.5},{"s":"EI","k":9,"x":9.4,"y":8.1},{"s":"EI","k":9,"x":11.6,"y":8.1},{"s":"EI","k":9,"x":13.4,"y":7.4},{"s":"EI","k":9,"x":14,"y":5.3},{"s":"EI","k":9,"x":13.6,"y":2.1},{"s":"EI","k":9,"x":12.7,"y":0},
{"s":"EI","k":10,"x":12.5,"y":0},{"s":"EI","k":10,"x":12.4,"y":2.9},{"s":"EI","k":10,"x":12.5,"y":6.1}
],
"cc": [
{"s":"R85","k":1,"x":55.7,"y":58.8},{"s":"R85","k":1,"x":58.3,"y":60.5},{"s":"R85","k":1,"x":64.4,"y":61.4},{"s":"R85","k":1,"x":72.5,"y":62.5},{"s":"R85","k":1,"x":80.7,"y":64.2},{"s":"R85","k":1,"x":87.8,"y":65.3},{"s":"R85","k":1,"x":94.9,"y":66.1},{"s":"R85","k":1,"x":101,"y":65.9},{"s":"R85","k":1,"x":105.6,"y":64.2},{"s":"R85","k":1,"x":107.6,"y":60.8},{"s":"R85","k":1,"x":108.1,"y":56.4},{"s":"R85","k":1,"x":106.6,"y":51.9},{"s":"R85","k":1,"x":104.6,"y":47.4},{"s":"R85","k":1,"x":105.6,"y":43},{"s":"R85","k":1,"x":107.6,"y":39.1},{"s":"R85","k":1,"x":107.6,"y":35.2},{"s":"R85","k":1,"x":105.6,"y":32.4},{"s":"R85","k":1,"x":101,"y":30.7},{"s":"R85","k":1,"x":94.9,"y":30.1},{"s":"R85","k":1,"x":87.8,"y":30.9},{"s":"R85","k":1,"x":78.6,"y":31.8},{"s":"R85","k":1,"x":70.5,"y":32.7},{"s":"R85","k":1,"x":62.4,"y":34.6},{"s":"R85","k":1,"x":59.8,"y":36.8},{"s":"R85","k":1,"x":61.9,"y":39.6},{"s":"R85","k":1,"x":67.4,"y":41.3},{"s":"R85","k":1,"x":75.6,"y":43.5},{"s":"R85","k":1,"x":82.7,"y":45.4},{"s":"R85","k":1,"x":88.8,"y":47.4},{"s":"R85","k":1,"x":91.9,"y":49.7},{"s":"R85","k":1,"x":89.8,"y":51.9},{"s":"R85","k":1,"x":82.7,"y":52.8},{"s":"R85","k":1,"x":72.5,"y":53},{"s":"R85","k":1,"x":64.4,"y":54.1},{"s":"R85","k":1,"x":58.3,"y":56.4},{"s":"R85","k":1,"x":55.7,"y":58.8},
{"s":"R60","k":2,"x":36.4,"y":58.6},{"s":"R60","k":2,"x":38.5,"y":61.1},{"s":"R60","k":2,"x":44,"y":62.9},{"s":"R60","k":2,"x":52.2,"y":64.2},{"s":"R60","k":2,"x":60.3,"y":65.1},{"s":"R60","k":2,"x":68.5,"y":65.1},{"s":"R60","k":2,"x":77.6,"y":64.4},{"s":"R60","k":2,"x":86.8,"y":65.1},{"s":"R60","k":2,"x":94.9,"y":66.2},{"s":"R60","k":2,"x":102,"y":65.5},{"s":"R60","k":2,"x":106.6,"y":62.5},{"s":"R60","k":2,"x":108.1,"y":56.9},{"s":"R60","k":2,"x":106.1,"y":51.4},{"s":"R60","k":2,"x":103.6,"y":46.3},{"s":"R60","k":2,"x":105.6,"y":42.4},{"s":"R60","k":2,"x":108.1,"y":38.5},{"s":"R60","k":2,"x":107.1,"y":34.1},{"s":"R60","k":2,"x":104.1,"y":30.7},{"s":"R60","k":2,"x":99,"y":27.4},{"s":"R60","k":2,"x":94.9,"y":26.5},{"s":"R60","k":2,"x":88.8,"y":27.9},{"s":"R60","k":2,"x":80.7,"y":29.6},{"s":"R60","k":2,"x":70.5,"y":30.5},{"s":"R60","k":2,"x":60.3,"y":30.1},{"s":"R60","k":2,"x":52.2,"y":29},{"s":"R60","k":2,"x":46.1,"y":29},{"s":"R60","k":2,"x":41,"y":30.9},{"s":"R60","k":2,"x":37.9,"y":34.1},{"s":"R60","k":2,"x":37.4,"y":37.4},{"s":"R60","k":2,"x":40,"y":40.2},{"s":"R60","k":2,"x":46.1,"y":42.4},{"s":"R60","k":2,"x":54.2,"y":43.5},{"s":"R60","k":2,"x":64.4,"y":43.9},{"s":"R60","k":2,"x":74.6,"y":44.3},{"s":"R60","k":2,"x":83.7,"y":45.4},{"s":"R60","k":2,"x":86.3,"y":47.7},{"s":"R60","k":2,"x":83.7,"y":49.7},{"s":"R60","k":2,"x":76.6,"y":50.8},{"s":"R60","k":2,"x":66.4,"y":51.4},{"s":"R60","k":2,"x":56.3,"y":51},{"s":"R60","k":2,"x":48.1,"y":51.7},{"s":"R60","k":2,"x":42,"y":53.9},{"s":"R60","k":2,"x":37.9,"y":55.8},{"s":"R60","k":2,"x":36.4,"y":58.6},
{"s":"R60","k":3,"x":85.8,"y":15.1},{"s":"R60","k":3,"x":88.3,"y":19},{"s":"R60","k":3,"x":92.9,"y":22},{"s":"R60","k":3,"x":98,"y":22.3},{"s":"R60","k":3,"x":101.5,"y":19.5},{"s":"R60","k":3,"x":102.5,"y":15.6},{"s":"R60","k":3,"x":101,"y":11.9},{"s":"R60","k":3,"x":95.9,"y":9.7},{"s":"R60","k":3,"x":89.8,"y":10},{"s":"R60","k":3,"x":86.3,"y":12.2},{"s":"R60","k":3,"x":85.8,"y":15.1},
{"s":"R26","k":4,"x":15.6,"y":58.6},{"s":"R26","k":4,"x":18.6,"y":61.1},{"s":"R26","k":4,"x":24.7,"y":63.1},{"s":"R26","k":4,"x":33.9,"y":64.2},{"s":"R26","k":4,"x":44,"y":65.1},{"s":"R26","k":4,"x":54.2,"y":65.3},{"s":"R26","k":4,"x":64.4,"y":64.4},{"s":"R26","k":4,"x":72.5,"y":63.3},{"s":"R26","k":4,"x":80.7,"y":62.2},{"s":"R26","k":4,"x":88.8,"y":61.4},{"s":"R26","k":4,"x":93.9,"y":60},{"s":"R26","k":4,"x":95.4,"y":56.9},{"s":"R26","k":4,"x":93.9,"y":53.6},{"s":"R26","k":4,"x":88.8,"y":51.4},{"s":"R26","k":4,"x":80.7,"y":49.9},{"s":"R26","k":4,"x":70.5,"y":49.7},{"s":"R26","k":4,"x":60.3,"y":50.2},{"s":"R26","k":4,"x":50.2,"y":50.8},{"s":"R26","k":4,"x":40,"y":50.5},{"s":"R26","k":4,"x":29.8,"y":49.7},{"s":"R26","k":4,"x":21.7,"y":50.2},{"s":"R26","k":4,"x":16.6,"y":53},{"s":"R26","k":4,"x":15.1,"y":56.4},{"s":"R26","k":4,"x":15.6,"y":58.6},
{"s":"R26","k":5,"x":17.6,"y":35.2},{"s":"R26","k":5,"x":20.7,"y":39.6},{"s":"R26","k":5,"x":26.8,"y":42.4},{"s":"R26","k":5,"x":36.9,"y":43.5},{"s":"R26","k":5,"x":47.1,"y":43.9},{"s":"R26","k":5,"x":57.3,"y":43.7},{"s":"R26","k":5,"x":67.4,"y":43.4},{"s":"R26","k":5,"x":77.6,"y":43.2},{"s":"R26","k":5,"x":86.8,"y":43},{"s":"R26","k":5,"x":92.9,"y":41.3},{"s":"R26","k":5,"x":95.4,"y":36.8},{"s":"R26","k":5,"x":93.4,"y":32.4},{"s":"R26","k":5,"x":87.8,"y":30.9},{"s":"R26","k":5,"x":78.6,"y":30.5},{"s":"R26","k":5,"x":68.5,"y":30.1},{"s":"R26","k":5,"x":58.3,"y":29.4},{"s":"R26","k":5,"x":50.2,"y":28.5},{"s":"R26","k":5,"x":43,"y":25.1},{"s":"R26","k":5,"x":42.5,"y":22.3},{"s":"R26","k":5,"x":47.1,"y":20.7},{"s":"R26","k":5,"x":54.2,"y":18.4},{"s":"R26","k":5,"x":59.3,"y":16.2},{"s":"R26","k":5,"x":61.9,"y":13.4},{"s":"R26","k":5,"x":60.3,"y":11.2},{"s":"R26","k":5,"x":54.2,"y":10},{"s":"R26","k":5,"x":46.1,"y":10.8},{"s":"R26","k":5,"x":37.9,"y":12.8},{"s":"R26","k":5,"x":30.8,"y":15.6},{"s":"R26","k":5,"x":27.8,"y":18.4},{"s":"R26","k":5,"x":27.6,"y":21.8},{"s":"R26","k":5,"x":26.8,"y":24},{"s":"R26","k":5,"x":23.7,"y":26.2},{"s":"R26","k":5,"x":20.1,"y":28.5},{"s":"R26","k":5,"x":17.6,"y":31.8},{"s":"R26","k":5,"x":17.4,"y":34.1},{"s":"R26","k":5,"x":17.6,"y":35.2},
{"s":"R26","k":6,"x":41,"y":55.3},{"s":"R26","k":6,"x":42.4,"y":54.8},{"s":"R26","k":6,"x":43.5,"y":56},{"s":"R26","k":6,"x":43,"y":57.6},{"s":"R26","k":6,"x":41.5,"y":57.8},{"s":"R26","k":6,"x":40.8,"y":56.5},{"s":"R26","k":6,"x":41,"y":55.3},
{"s":"R26","k":7,"x":41.8,"y":33.8},{"s":"R26","k":7,"x":42.8,"y":33.5},{"s":"R26","k":7,"x":43.3,"y":34.6},{"s":"R26","k":7,"x":42.5,"y":35.5},{"s":"R26","k":7,"x":41.9,"y":35},
{"s":"R60","k":8,"x":56.5,"y":14.5},{"s":"R60","k":8,"x":58.5,"y":14},{"s":"R60","k":8,"x":60,"y":15},{"s":"R60","k":8,"x":58.5,"y":16},{"s":"R60","k":8,"x":56.8,"y":15.5},
{"s":"PD","k":9,"x":0,"y":70},{"s":"PD","k":9,"x":4.4,"y":70.9},{"s":"PD","k":9,"x":10.5,"y":69.2},{"s":"PD","k":9,"x":16.6,"y":67.3},{"s":"PD","k":9,"x":21.7,"y":65.1},{"s":"PD","k":9,"x":24.7,"y":62.5},{"s":"PD","k":9,"x":26.8,"y":60.3},{"s":"PD","k":9,"x":28.8,"y":57.5},{"s":"PD","k":9,"x":29.3,"y":55.3},{"s":"PD","k":9,"x":27.3,"y":51.9},{"s":"PD","k":9,"x":24.2,"y":49.1},{"s":"PD","k":9,"x":21.7,"y":45.8},{"s":"PD","k":9,"x":22.7,"y":41.9},{"s":"PD","k":9,"x":25.7,"y":39.6},{"s":"PD","k":9,"x":28.8,"y":36.3},{"s":"PD","k":9,"x":28.3,"y":32.9},{"s":"PD","k":9,"x":25.7,"y":29.6},{"s":"PD","k":9,"x":23.2,"y":27.4},{"s":"PD","k":9,"x":25.7,"y":24.6},{"s":"PD","k":9,"x":27.8,"y":21.8},{"s":"PD","k":9,"x":26.2,"y":18.4},{"s":"PD","k":9,"x":23.2,"y":15.1},{"s":"PD","k":9,"x":21.7,"y":10.6},{"s":"PD","k":9,"x":18.6,"y":8.4},{"s":"PD","k":9,"x":13.5,"y":7.3},{"s":"PD","k":9,"x":9.5,"y":5.6},{"s":"PD","k":9,"x":6.4,"y":1.7},{"s":"PD","k":9,"x":5.4,"y":0},
{"s":"EI","k":10,"x":2.3,"y":73.1},{"s":"EI","k":10,"x":4.4,"y":69.8},{"s":"EI","k":10,"x":7.4,"y":66.4},{"s":"EI","k":10,"x":9,"y":64.2},{"s":"EI","k":10,"x":11.5,"y":65.3},{"s":"EI","k":10,"x":13.5,"y":65.9},{"s":"EI","k":10,"x":14.5,"y":64.8},{"s":"EI","k":10,"x":14,"y":58.6},{"s":"EI","k":10,"x":13.7,"y":50.8},{"s":"EI","k":10,"x":13.5,"y":41.9},{"s":"EI","k":10,"x":13.3,"y":34.1},{"s":"EI","k":10,"x":13,"y":29.6},{"s":"EI","k":10,"x":12,"y":28.5},{"s":"EI","k":10,"x":10,"y":30.7},{"s":"EI","k":10,"x":8.4,"y":31.3},{"s":"EI","k":10,"x":7.4,"y":29},{"s":"EI","k":10,"x":7.6,"y":24},{"s":"EI","k":10,"x":8.4,"y":20.7},{"s":"EI","k":10,"x":10.5,"y":18.4},{"s":"EI","k":10,"x":12.5,"y":19},{"s":"EI","k":10,"x":14,"y":17.3},{"s":"EI","k":10,"x":13.5,"y":12.3},{"s":"EI","k":10,"x":12,"y":10.6},{"s":"EI","k":10,"x":9.5,"y":8.9},{"s":"EI","k":10,"x":7.4,"y":6.1},{"s":"EI","k":10,"x":5.4,"y":2.8},{"s":"EI","k":10,"x":3.4,"y":0},
{"s":"EI","k":11,"x":6.6,"y":22},{"s":"EI","k":11,"x":7.3,"y":22.5},{"s":"EI","k":11,"x":7.4,"y":25},{"s":"EI","k":11,"x":6.9,"y":26.5},{"s":"EI","k":11,"x":6.3,"y":25},{"s":"EI","k":11,"x":6.6,"y":22},
{"s":"EI","k":12,"x":25.7,"y":61},{"s":"EI","k":12,"x":26.3,"y":59},{"s":"EI","k":12,"x":26.2,"y":56.5},
{"s":"EI","k":13,"x":25.7,"y":37.4},{"s":"EI","k":13,"x":26.3,"y":35.5},{"s":"EI","k":13,"x":26,"y":33.5}
]
},
"columns": 2,
"bounds": "flush",
"spacing": {"row": 16, "column": 23},
"resolve": {"scale": {"x": "independent", "y": "independent", "color": "independent"}, "axis": {"x": "independent", "y": "independent"}, "legend": {"color": "independent"}},
"concat": [
{
 "width": 361, "height": 78,
 "layer": [
  {"data": {"values": [{}]}, "mark": {"type": "rule", "color": "#9a9a9a", "strokeWidth": 2}, "encoding": {"y": {"datum": 0}}},
  {"data": {"name": "tab"},
   "mark": {"type": "line", "strokeWidth": 1.7, "opacity": 0.9, "interpolate": "monotone"},
   "encoding": {
    "x": {"field": "x", "type": "quantitative", "scale": {"domain": [-1, 46.6], "nice": false, "zero": false}, "axis": {"orient": "top", "ticks": false, "labels": false, "domain": false, "title": "River Floods & Wildfires", "titleFont": "Lato", "titleFontSize": 14.5, "titleFontWeight": "normal", "titleColor": "#222", "titleX": 164, "titleY": -4.3, "titleAlign": "center", "titleBaseline": "alphabetic", "titleAngle": 0}},
    "y": {"field": "d", "type": "quantitative", "scale": {"domain": [0, 0.78], "nice": false, "zero": false}, "axis": {"ticks": false, "labels": false, "domain": false, "title": "a)", "titleFont": "Lato", "titleFontSize": 14.5, "titleFontWeight": "normal", "titleColor": "#222", "titleX": -47, "titleY": -4.3, "titleAlign": "left", "titleBaseline": "alphabetic", "titleAngle": 0}},
    "color": {"field": "s", "type": "nominal", "scale": {"domain": ["EI", "PD", "R26", "R60", "R85"], "range": ["#FED98E", "#FDBE4B", "#FD9A0E", "#E3661B", "#A33C10"]}, "legend": {"legendX": 363, "legendY": 6.3, "labelExpr": "datum.label=='EI'?'Early-industrial: ρ= -0.02':datum.label=='PD'?'Present day: ρ= 0.03':datum.label=='R26'?'RCP2.6: ρ= 0.02':datum.label=='R60'?'RCP6.0: ρ= 0.04':'RCP8.5: ρ= 0.07'"}},
    "order": {"value": null}
   }}
 ]
},
{"width": 130, "height": 78, "data": {"values": []}, "mark": "point"},
{
 "width": 361, "height": 227,
 "view": {"stroke": "#8a8a8a", "strokeWidth": 1.8},
 "data": {"name": "ca"},
 "mark": {"type": "line", "strokeDash": [6, 3], "strokeWidth": 1.6, "opacity": 0.85, "clip": true, "interpolate": "catmull-rom"},
 "encoding": {
  "x": {"field": "x", "type": "quantitative", "scale": {"domain": [-1, 46.6], "nice": false, "zero": false}, "axis": {"values": [0, 10, 20, 30, 40], "title": "Percentage of area affected by River Floods", "tickSize": 4, "labelPadding": 3, "titlePadding": 3}},
  "y": {"field": "y", "type": "quantitative", "scale": {"domain": [-1, 75.7], "nice": false, "zero": false}, "axis": {"values": [0, 10, 20, 30, 40, 50, 60, 70], "title": "Percentage of area affected by Wildfires", "tickSize": 4, "labelPadding": 6, "titlePadding": 5}},
  "color": {"field": "s", "type": "nominal", "scale": {"domain": ["EI", "PD", "R26", "R60", "R85"], "range": ["#FED98E", "#FDBE4B", "#FD9A0E", "#E3661B", "#A33C10"]}, "legend": null},
  "detail": {"field": "k", "type": "nominal"},
  "order": {"value": null}
 }
},
{
 "width": 130, "height": 227,
 "data": {"name": "ra"},
 "mark": {"type": "line", "strokeWidth": 1.7, "opacity": 0.85, "interpolate": "basis"},
 "encoding": {
  "x": {"field": "d", "type": "quantitative", "scale": {"domain": [0, 1.3], "nice": false, "zero": false}, "axis": null},
  "y": {"field": "y", "type": "quantitative", "scale": {"domain": [-1, 75.7], "nice": false, "zero": false}, "axis": {"domain": true, "domainColor": "#9a9a9a", "domainWidth": 2, "ticks": false, "labels": false, "title": null}},
  "color": {"field": "s", "type": "nominal", "scale": {"domain": ["EI", "PD", "R26", "R60", "R85"], "range": ["#FED98E", "#FDBE4B", "#FD9A0E", "#E3661B", "#A33C10"]}, "legend": null},
  "order": {"value": null}
 }
},
{
 "width": 361, "height": 133,
 "layer": [
  {"data": {"values": [{}]}, "mark": {"type": "rule", "color": "#9a9a9a", "strokeWidth": 2}, "encoding": {"y": {"datum": 0}}},
  {"data": {"name": "tab"},
   "mark": {"type": "line", "strokeWidth": 1.7, "opacity": 0.9, "interpolate": "monotone"},
   "encoding": {
    "x": {"field": "x", "type": "quantitative", "scale": {"domain": [-1, 46.6], "nice": false, "zero": false}, "axis": {"orient": "top", "ticks": false, "labels": false, "domain": false, "title": "River Floods & Heatwaves", "titleFont": "Lato", "titleFontSize": 14.5, "titleFontWeight": "normal", "titleColor": "#222", "titleX": 160, "titleY": 53.7, "titleAlign": "center", "titleBaseline": "alphabetic", "titleAngle": 0}},
    "y": {"field": "d", "type": "quantitative", "scale": {"domain": [0, 1.33], "nice": false, "zero": false}, "axis": {"ticks": false, "labels": false, "domain": false, "title": "b)", "titleFont": "Lato", "titleFontSize": 14.5, "titleFontWeight": "normal", "titleColor": "#222", "titleX": -47, "titleY": 53.7, "titleAlign": "left", "titleBaseline": "alphabetic", "titleAngle": 0}},
    "color": {"field": "s", "type": "nominal", "scale": {"domain": ["EI", "PD", "R26", "R60", "R85"], "range": ["#FED98E", "#FDBE4B", "#FD9A0E", "#E3661B", "#A33C10"]}, "legend": {"legendX": 363, "legendY": 61.3, "labelExpr": "datum.label=='EI'?'Early-industrial: ρ= 0.04':datum.label=='PD'?'Present day: ρ= 0.21':datum.label=='R26'?'RCP2.6: ρ= 0.52':datum.label=='R60'?'RCP6.0: ρ= 0.50':'RCP8.5: ρ= 0.33'"}},
    "order": {"value": null}
   }}
 ]
},
{"width": 130, "height": 133, "data": {"values": []}, "mark": "point"},
{
 "width": 361, "height": 229,
 "view": {"stroke": "#8a8a8a", "strokeWidth": 1.8},
 "data": {"name": "cb"},
 "mark": {"type": "line", "strokeDash": [6, 3], "strokeWidth": 1.6, "opacity": 0.85, "clip": true, "interpolate": "catmull-rom"},
 "encoding": {
  "x": {"field": "x", "type": "quantitative", "scale": {"domain": [-1, 46.6], "nice": false, "zero": false}, "axis": {"values": [0, 10, 20, 30, 40], "title": "Percentage of area affected by River Floods", "tickSize": 4, "labelPadding": 3, "titlePadding": 3}},
  "y": {"field": "y", "type": "quantitative", "scale": {"domain": [-1, 109.6], "nice": false, "zero": false}, "axis": {"values": [0, 20, 40, 60, 80, 100], "title": "Percentage of area affected by Heatwaves", "tickSize": 4, "labelPadding": 6, "titlePadding": 5}},
  "color": {"field": "s", "type": "nominal", "scale": {"domain": ["EI", "PD", "R26", "R60", "R85"], "range": ["#FED98E", "#FDBE4B", "#FD9A0E", "#E3661B", "#A33C10"]}, "legend": null},
  "detail": {"field": "k", "type": "nominal"},
  "order": {"value": null}
 }
},
{
 "width": 130, "height": 229,
 "data": {"name": "rb"},
 "mark": {"type": "line", "strokeWidth": 1.7, "opacity": 0.85, "interpolate": "catmull-rom"},
 "encoding": {
  "x": {"field": "d", "type": "quantitative", "scale": {"domain": [0, 1.3], "nice": false, "zero": false}, "axis": null},
  "y": {"field": "y", "type": "quantitative", "scale": {"domain": [-1, 109.6], "nice": false, "zero": false}, "axis": {"domain": true, "domainColor": "#9a9a9a", "domainWidth": 2, "ticks": false, "labels": false, "title": null}},
  "color": {"field": "s", "type": "nominal", "scale": {"domain": ["EI", "PD", "R26", "R60", "R85"], "range": ["#FED98E", "#FDBE4B", "#FD9A0E", "#E3661B", "#A33C10"]}, "legend": null},
  "order": {"value": null}
 }
},
{
 "width": 361, "height": 136,
 "layer": [
  {"data": {"values": [{}]}, "mark": {"type": "rule", "color": "#9a9a9a", "strokeWidth": 2}, "encoding": {"y": {"datum": 0}}},
  {"data": {"name": "tc"},
   "mark": {"type": "line", "strokeWidth": 1.7, "opacity": 0.9, "interpolate": "monotone"},
   "encoding": {
    "x": {"field": "x", "type": "quantitative", "scale": {"domain": [-0.6, 109.7], "nice": false, "zero": false}, "axis": {"orient": "top", "ticks": false, "labels": false, "domain": false, "title": "Heatwaves & Wildfires", "titleFont": "Lato", "titleFontSize": 14.5, "titleFontWeight": "normal", "titleColor": "#222", "titleX": 162, "titleY": 53.3, "titleAlign": "center", "titleBaseline": "alphabetic", "titleAngle": 0}},
    "y": {"field": "d", "type": "quantitative", "scale": {"domain": [0, 1.36], "nice": false, "zero": false}, "axis": {"ticks": false, "labels": false, "domain": false, "title": "c)", "titleFont": "Lato", "titleFontSize": 14.5, "titleFontWeight": "normal", "titleColor": "#222", "titleX": -47, "titleY": 53.3, "titleAlign": "left", "titleBaseline": "alphabetic", "titleAngle": 0}},
    "color": {"field": "s", "type": "nominal", "scale": {"domain": ["EI", "PD", "R26", "R60", "R85"], "range": ["#FED98E", "#FDBE4B", "#FD9A0E", "#E3661B", "#A33C10"]}, "legend": {"legendX": 363, "legendY": 62.3, "labelExpr": "datum.label=='EI'?'Early-industrial: ρ= 0.01':datum.label=='PD'?'Present day: ρ= 0.04':datum.label=='R26'?'RCP2.6: ρ= -0.02':datum.label=='R60'?'RCP6.0: ρ= -0.05':'RCP8.5: ρ= -0.02'"}},
    "order": {"value": null}
   }}
 ]
},
{"width": 130, "height": 136, "data": {"values": []}, "mark": "point"},
{
 "width": 361, "height": 227,
 "view": {"stroke": "#8a8a8a", "strokeWidth": 1.8},
 "data": {"name": "cc"},
 "mark": {"type": "line", "strokeDash": [6, 3], "strokeWidth": 1.6, "opacity": 0.85, "clip": true, "interpolate": "catmull-rom"},
 "encoding": {
  "x": {"field": "x", "type": "quantitative", "scale": {"domain": [-0.6, 109.7], "nice": false, "zero": false}, "axis": {"values": [0, 20, 40, 60, 80, 100], "title": "Percentage of area affected by Heatwaves", "tickSize": 4, "labelPadding": 2, "titlePadding": 1}},
  "y": {"field": "y", "type": "quantitative", "scale": {"domain": [-0.7, 75.3], "nice": false, "zero": false}, "axis": {"values": [0, 10, 20, 30, 40, 50, 60, 70], "title": "Percentage of area affected by Wildfires", "tickSize": 4, "labelPadding": 6, "titlePadding": 5}},
  "color": {"field": "s", "type": "nominal", "scale": {"domain": ["EI", "PD", "R26", "R60", "R85"], "range": ["#FED98E", "#FDBE4B", "#FD9A0E", "#E3661B", "#A33C10"]}, "legend": null},
  "detail": {"field": "k", "type": "nominal"},
  "order": {"value": null}
 }
},
{
 "width": 130, "height": 227,
 "data": {"name": "rc"},
 "mark": {"type": "line", "strokeWidth": 1.7, "opacity": 0.85, "interpolate": "basis"},
 "encoding": {
  "x": {"field": "d", "type": "quantitative", "scale": {"domain": [0, 1.3], "nice": false, "zero": false}, "axis": null},
  "y": {"field": "y", "type": "quantitative", "scale": {"domain": [-0.7, 75.3], "nice": false, "zero": false}, "axis": {"domain": true, "domainColor": "#9a9a9a", "domainWidth": 2, "ticks": false, "labels": false, "title": null}},
  "color": {"field": "s", "type": "nominal", "scale": {"domain": ["EI", "PD", "R26", "R60", "R85"], "range": ["#FED98E", "#FDBE4B", "#FD9A0E", "#E3661B", "#A33C10"]}, "legend": null},
  "order": {"value": null}
 }
}
]
}
